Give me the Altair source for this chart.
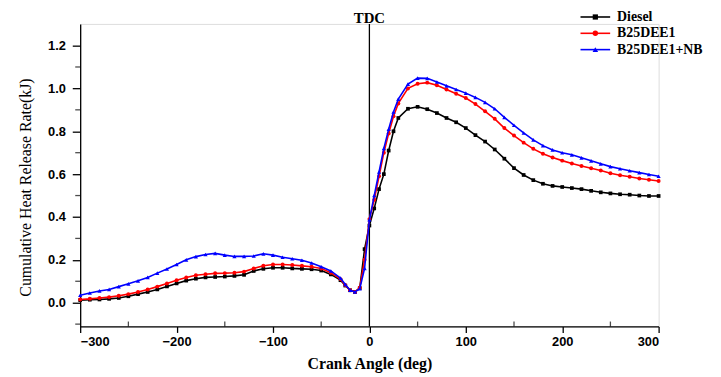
import altair as alt
import pandas as pd

# ---------------- data ----------------
angles = [-300, -290, -280, -270, -260, -250, -240, -230, -220, -210,
          -200, -190, -180, -170, -160, -150, -140, -130, -120, -110,
          -100, -90, -80, -70, -60, -50, -40, -30, -25, -20,
          -15, -10, -5, 0, 5, 10, 15, 20, 25, 30,
          40, 50, 60, 70, 80, 90, 100, 110, 120, 130,
          140, 150, 160, 170, 180, 190, 200, 210, 220, 230,
          240, 250, 260, 270, 280, 290, 300]

diesel = [0.012, 0.014, 0.015, 0.018, 0.022, 0.030, 0.040, 0.050, 0.062, 0.076,
          0.090, 0.103, 0.112, 0.118, 0.120, 0.122, 0.125, 0.130, 0.148, 0.158,
          0.163, 0.163, 0.160, 0.158, 0.156, 0.150, 0.132, 0.105, 0.080, 0.058,
          0.050, 0.068, 0.250, 0.360, 0.440, 0.530, 0.600, 0.710, 0.800, 0.862,
          0.905, 0.914, 0.903, 0.885, 0.862, 0.842, 0.815, 0.782, 0.752, 0.715,
          0.672, 0.628, 0.596, 0.572, 0.555, 0.545, 0.540, 0.535, 0.530, 0.522,
          0.515, 0.510, 0.506, 0.504, 0.500, 0.498, 0.498]

b25dee1 = [0.015, 0.018, 0.022, 0.026, 0.032, 0.040, 0.050, 0.062, 0.075, 0.090,
           0.105, 0.118, 0.128, 0.133, 0.137, 0.138, 0.140, 0.145, 0.160, 0.172,
           0.178, 0.178, 0.176, 0.172, 0.168, 0.160, 0.140, 0.110, 0.082, 0.058,
           0.050, 0.070, 0.200, 0.390, 0.480, 0.590, 0.700, 0.790, 0.870, 0.930,
           1.000, 1.022, 1.027, 1.015, 0.995, 0.975, 0.955, 0.927, 0.893, 0.858,
           0.815, 0.780, 0.747, 0.718, 0.695, 0.678, 0.663, 0.650, 0.638, 0.627,
           0.617, 0.604, 0.595, 0.588, 0.580, 0.574, 0.568]

b25dee1_nb = [0.035, 0.045, 0.055, 0.062, 0.075, 0.088, 0.102, 0.118, 0.138, 0.157,
              0.178, 0.200, 0.215, 0.225, 0.230, 0.222, 0.216, 0.216, 0.218, 0.228,
              0.222, 0.212, 0.205, 0.198, 0.185, 0.168, 0.148, 0.115, 0.085, 0.058,
              0.050, 0.065, 0.160, 0.387, 0.500, 0.610, 0.720, 0.810, 0.890, 0.950,
              1.020, 1.048, 1.047, 1.030, 1.012, 0.995, 0.978, 0.958, 0.935, 0.905,
              0.865, 0.828, 0.792, 0.760, 0.733, 0.713, 0.700, 0.690, 0.676, 0.662,
              0.648, 0.635, 0.625, 0.616, 0.607, 0.598, 0.590]

series = ["Diesel", "B25DEE1", "B25DEE1+NB"]
colors = ["#000000", "#ff0000", "#0000ff"]
shapes = ["square", "circle", "triangle-up"]
sizes = [14, 16, 18]

x_ticks = [-300, -200, -100, 0, 100, 200, 300]
x_minor = [-250, -150, -50, 50, 150, 250]
y_ticks = [0.0, 0.2, 0.4, 0.6, 0.8, 1.0, 1.2]
y_minor = [-0.1, 0.1, 0.3, 0.5, 0.7, 0.9, 1.1]
tdc_angle = [0]

# ---------------- chart ----------------
W, H = 585, 306
SERIF = "Liberation Serif"
SANS = "Liberation Sans"

xscale = alt.Scale(domain=[-300, 300], nice=False, zero=False)
yscale = alt.Scale(domain=[-0.111, 1.301], nice=False, zero=False)

x_axis = alt.Axis(values=x_ticks, format="d", title="Crank Angle (deg)",
                  tickSize=6, labelPadding=3, labelFont=SANS, labelFontWeight="bold",
                  labelFontSize=13, titleFont=SERIF, titleFontWeight="bold",
                  titleFontSize=16, titlePadding=8, grid=False,
                  domainColor="black", tickColor="black", labelColor="black",
                  titleColor="black", domainWidth=1.3, tickWidth=1.3)
y_axis = alt.Axis(values=y_ticks, format=".1f",
                  title="Cumulative Heat Release Rate(kJ)",
                  tickSize=8, labelPadding=7, labelFont=SANS, labelFontWeight="bold",
                  labelFontSize=13, titleFont=SERIF, titleFontWeight="normal",
                  titleFontSize=16, titleX=-47, titleY=165, grid=False,
                  domainColor="black", tickColor="black", labelColor="black",
                  titleColor="black", domainWidth=1.3, tickWidth=1.3)

X = alt.X("angle:Q", scale=xscale, axis=x_axis)
Y = alt.Y("hrr:Q", scale=yscale, axis=y_axis)

layers = []

# minor ticks (y outward, x inward)
layers.append(
    alt.Chart(pd.DataFrame({"hrr": y_minor})).mark_tick(
        orient="horizontal", color="black", thickness=1.3, size=5)
    .encode(y=Y, x=alt.value(-2.5))
)
layers.append(
    alt.Chart(pd.DataFrame({"angle": x_minor})).mark_tick(
        orient="vertical", color="black", thickness=1.3, size=5)
    .encode(x=X, y=alt.value(H - 2.5))
)

tdc_df = pd.DataFrame({"angle": tdc_angle})
layers.append(alt.Chart(tdc_df).mark_rule(color="black", strokeWidth=1.3).encode(x=X))
layers.append(
    alt.Chart(tdc_df).mark_text(text="TDC", font=SERIF, fontWeight="bold", fontSize=15,
                                baseline="alphabetic", align="center", color="black")
    .encode(x=X, y=alt.value(-1))
)

for name, vals, c, shp, sz in zip(series, [diesel, b25dee1, b25dee1_nb], colors, shapes, sizes):
    d = pd.DataFrame({"angle": angles, "hrr": vals, "fuel": name})
    base = alt.Chart(d)
    layers.append(base.mark_line(color=c, strokeWidth=1.6).encode(x=X, y=Y))
    layers.append(base.mark_point(shape=shp, filled=True, size=sz, color=c, opacity=1)
                  .encode(x=X, y=Y))

# legend (top-right, line + marker + label)
for i, (name, c, shp, sz) in enumerate(zip(series, colors, shapes, sizes)):
    yy = -7 + 16.5 * i
    ld = pd.DataFrame({"fuel": [name]})
    lb = alt.Chart(ld)
    layers.append(lb.mark_rule(color=c, strokeWidth=1.6)
                  .encode(x=alt.value(506), x2=alt.value(536), y=alt.value(yy)))
    layers.append(lb.mark_point(shape=shp, filled=True, size=sz + 14, color=c, opacity=1)
                  .encode(x=alt.value(521), y=alt.value(yy)))
    layers.append(lb.mark_text(align="left", baseline="middle", font=SERIF,
                               fontWeight="bold", fontSize=14, color="black")
                  .encode(x=alt.value(543), y=alt.value(yy), text="fuel:N"))

chart = (
    alt.layer(*layers)
    .properties(width=W, height=H, autosize=alt.AutoSizeParams(type="none"),
                padding={"left": 73, "top": 14, "right": 55, "bottom": 49})
    .configure_view(stroke=None)
    .configure(background="white")
)

chart.save("out.html", embed_options={"renderer": "svg", "actions": False})
